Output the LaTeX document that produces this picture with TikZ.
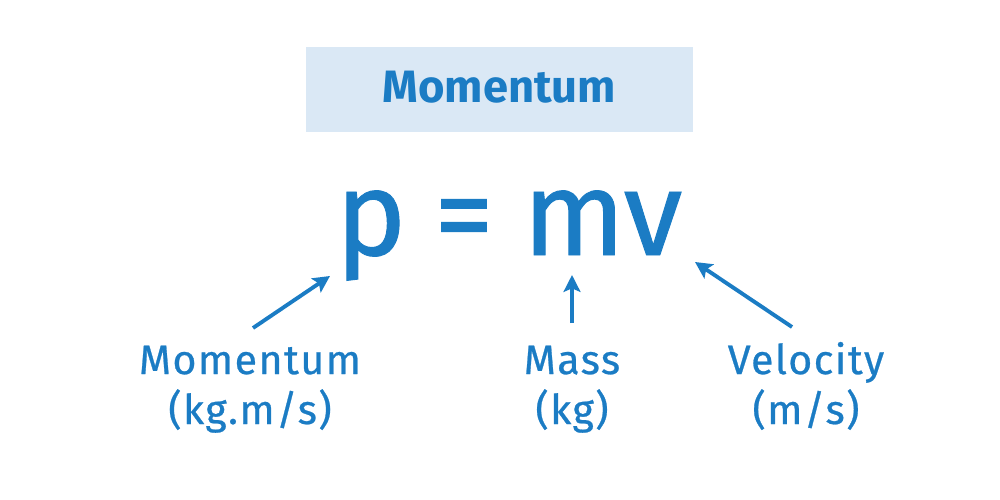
\documentclass[tikz,border=0pt]{standalone}
\usepackage{fontspec}
\setmainfont{Fira Sans}
\newfontfamily\unitfont[LetterSpace=3.5,FakeBold=0.6]{Fira Sans}
\newfontfamily\symfont[FakeBold=0.8]{Fira Sans}
\usetikzlibrary{arrows.meta,positioning}
\definecolor{mBlue}{HTML}{1B7CC4}
\definecolor{mPale}{HTML}{DAE8F5}

\tikzset{
  sym/.style={text=mBlue,font=\symfont\fontsize{34}{40}\selectfont,anchor=base,inner sep=0pt},
  unitlbl/.style={text=mBlue,font=\unitfont\fontsize{11.7}{14.2}\selectfont,align=center,anchor=base,inner sep=0pt},
  arr/.style={mBlue,line width=1.1pt,-{Stealth[length=4.8pt,width=4.8pt,inset=1pt]}}
}

\begin{document}
\begin{tikzpicture}[x=0.01cm,y=-0.01cm]
  \useasboundingbox (0,0) rectangle (1000,500);
  % ---- Title ----
  \node[fill=mPale,text=mBlue,font=\bfseries\fontsize{12.9}{16}\selectfont,
        minimum width=3.87cm,minimum height=0.85cm,inner sep=0pt,
        text height=0.33cm,text depth=0.08cm] (title) at (499.5,89.5) {Momentum};
  % ---- p = mv ----
  \node[sym] (p) at (371,255) {p};
  \node[sym] (eq) at (464,255) {=};
  \node[sym] (m) at (574,255) {m};
  \node[sym] (v) at (653,255) {v};
  % ---- labels (anchor = baseline of 2nd line) ----
  \node[unitlbl] (momlbl) at (250,424) {Momentum\\(kg.m/s)};
  \node[unitlbl] (masslbl) at (572,424) {Mass\\(kg)};
  \node[unitlbl] (vellbl) at (806,424) {Velocity\\(m/s)};
  % ---- arrows ----
  \coordinate (momTail) at (253,328);
  \coordinate (pTip) at (330,276);
  \coordinate (massTail) at (572,323);
  \coordinate (mTip) at (572,275);
  \coordinate (velTail) at (792,327);
  \coordinate (vTip) at (695,262);
  \draw[arr] (momTail) -- (pTip);
  \draw[arr] (massTail) -- (mTip);
  \draw[arr] (velTail) -- (vTip);
\end{tikzpicture}
\end{document}
